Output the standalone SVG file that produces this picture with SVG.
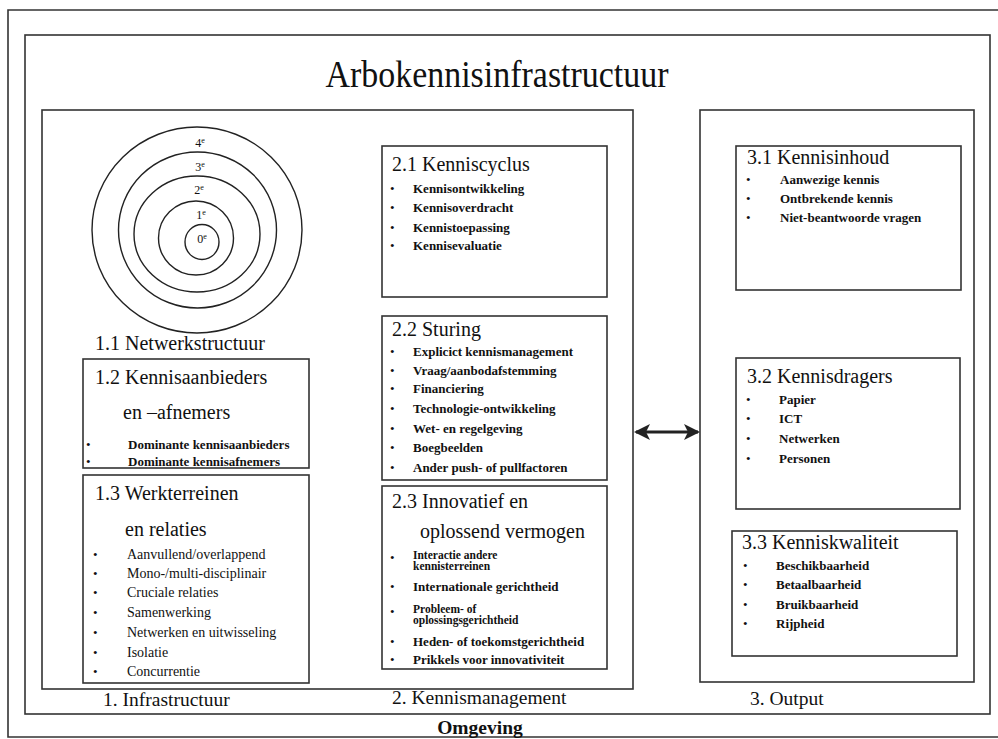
<svg xmlns="http://www.w3.org/2000/svg" width="998" height="739" viewBox="0 0 998 739">
<defs>
<style>
text{font-family:"Liberation Serif","Times New Roman",serif;fill:#111}
.frame{fill:none;stroke:#333;stroke-width:1.6}
.box{fill:#fff;stroke:#333;stroke-width:1.6}
.ring{fill:none;stroke:#222;stroke-width:1.4}
.ttl{font-size:20px}
.lbl{font-size:19.5px}
.it{font-size:13px;font-weight:bold}
.itr{font-size:14px}
.sm{font-size:11.5px;font-weight:bold}
.bl{font-size:13px}
.ring-l{font-size:12px;text-anchor:middle}
</style>
<marker id="ah" viewBox="0 0 16 16" refX="14" refY="8" markerWidth="16" markerHeight="16" markerUnits="userSpaceOnUse" orient="auto-start-reverse">
<path d="M0,0 L16,8 L0,16 L4,8 Z" fill="#222"/>
</marker>
</defs>
<rect width="998" height="739" fill="#fff"/>
<g id="outer">
<path class="frame" d="M998,10 H8 V737 H998"/>
<text x="480" y="734" text-anchor="middle" style="font-size:19.5px;font-weight:bold">Omgeving</text>
</g>
<g id="arbokennisinfrastructuur">
<rect class="frame" x="25" y="35" width="965" height="679"/>
<text x="497" y="87" text-anchor="middle" style="font-size:37px" textLength="343" lengthAdjust="spacingAndGlyphs">Arbokennisinfrastructuur</text>
</g>
<g id="main-left">
<rect class="frame" x="42" y="110" width="591" height="579"/>
<text class="lbl" x="103" y="706">1. Infrastructuur</text>
<text class="lbl" x="392" y="704">2. Kennismanagement</text>
</g>
<g id="main-right">
<rect class="frame" x="700" y="110" width="274" height="572"/>
<text class="lbl" x="750" y="705">3. Output</text>
</g>
<g id="n1-1">
<ellipse class="ring" cx="197" cy="230" rx="105" ry="103"/>
<ellipse class="ring" cx="197.5" cy="230" rx="79" ry="78"/>
<ellipse class="ring" cx="197" cy="234" rx="63" ry="58"/>
<ellipse class="ring" cx="196" cy="238" rx="37.5" ry="37"/>
<ellipse class="ring" cx="202" cy="242" rx="17" ry="17.5"/>
<text class="ring-l" x="200" y="147">4<tspan dy="-4" font-size="8">e</tspan></text>
<text class="ring-l" x="200" y="171">3<tspan dy="-4" font-size="8">e</tspan></text>
<text class="ring-l" x="199" y="194">2<tspan dy="-4" font-size="8">e</tspan></text>
<text class="ring-l" x="201" y="219">1<tspan dy="-4" font-size="8">e</tspan></text>
<text class="ring-l" x="202" y="243">0<tspan dy="-4" font-size="8">e</tspan></text>
<text class="ttl" x="95" y="350">1.1 Netwerkstructuur</text>
</g>
<g id="n1-2">
<rect class="box" x="83" y="359" width="226" height="109"/>
<text class="ttl" x="95" y="384">1.2 Kennisaanbieders</text>
<text class="ttl" x="123" y="419">en –afnemers</text>
<text class="bl" x="86" y="449">•</text><text class="it" x="128" y="449">Dominante kennisaanbieders</text>
<text class="bl" x="86" y="466">•</text><text class="it" x="128" y="466">Dominante kennisafnemers</text>
</g>
<g id="n1-3">
<rect class="box" x="83" y="475" width="226" height="208"/>
<text class="ttl" x="95" y="500">1.3 Werkterreinen</text>
<text class="ttl" x="125" y="536">en relaties</text>
<text class="bl" x="93" y="559">•</text><text class="itr" x="127" y="559">Aanvullend/overlappend</text>
<text class="bl" x="93" y="578">•</text><text class="itr" x="127" y="578">Mono-/multi-disciplinair</text>
<text class="bl" x="93" y="597">•</text><text class="itr" x="127" y="597">Cruciale relaties</text>
<text class="bl" x="93" y="617">•</text><text class="itr" x="127" y="617">Samenwerking</text>
<text class="bl" x="93" y="637">•</text><text class="itr" x="127" y="637">Netwerken en uitwisseling</text>
<text class="bl" x="93" y="657">•</text><text class="itr" x="127" y="657">Isolatie</text>
<text class="bl" x="93" y="676">•</text><text class="itr" x="127" y="676">Concurrentie</text>
</g>
<g id="n2-1">
<rect class="box" x="382" y="146" width="225" height="151"/>
<text class="ttl" x="392" y="171">2.1 Kenniscyclus</text>
<text class="bl" x="390" y="193">•</text><text class="it" x="413" y="193">Kennisontwikkeling</text>
<text class="bl" x="390" y="212">•</text><text class="it" x="413" y="212">Kennisoverdracht</text>
<text class="bl" x="390" y="232">•</text><text class="it" x="413" y="232">Kennistoepassing</text>
<text class="bl" x="390" y="250">•</text><text class="it" x="413" y="250">Kennisevaluatie</text>
</g>
<g id="n2-2">
<rect class="box" x="382" y="316" width="225" height="164"/>
<text class="ttl" x="392" y="336">2.2 Sturing</text>
<text class="bl" x="390" y="356">•</text><text class="it" x="413" y="356">Explicict kennismanagement</text>
<text class="bl" x="390" y="375">•</text><text class="it" x="413" y="375">Vraag/aanbodafstemming</text>
<text class="bl" x="390" y="393">•</text><text class="it" x="413" y="393">Financiering</text>
<text class="bl" x="390" y="413">•</text><text class="it" x="413" y="413">Technologie-ontwikkeling</text>
<text class="bl" x="390" y="433">•</text><text class="it" x="413" y="433">Wet- en regelgeving</text>
<text class="bl" x="390" y="452">•</text><text class="it" x="413" y="452">Boegbeelden</text>
<text class="bl" x="390" y="472">•</text><text class="it" x="413" y="472">Ander push- of pullfactoren</text>
</g>
<g id="n2-3">
<rect class="box" x="382" y="486" width="225" height="183"/>
<text class="ttl" x="392" y="508">2.3 Innovatief en</text>
<text class="ttl" x="420" y="538">oplossend vermogen</text>
<text class="bl" x="390" y="562">•</text><text class="sm" x="413" y="559">Interactie andere</text>
<text class="sm" x="413" y="569.5">kennisterreinen</text>
<text class="bl" x="390" y="591">•</text><text class="it" x="413" y="591">Internationale gerichtheid</text>
<text class="bl" x="390" y="616">•</text><text class="sm" x="413" y="613">Probleem- of</text>
<text class="sm" x="413" y="623.5">oplossingsgerichtheid</text>
<text class="bl" x="390" y="646">•</text><text class="it" x="413" y="646">Heden- of toekomstgerichtheid</text>
<text class="bl" x="390" y="664">•</text><text class="it" x="413" y="664">Prikkels voor innovativiteit</text>
</g>
<g id="n3-1">
<rect class="box" x="736" y="146" width="225" height="144"/>
<text class="ttl" x="747" y="164">3.1 Kennisinhoud</text>
<text class="bl" x="746" y="184">•</text><text class="it" x="780" y="184">Aanwezige kennis</text>
<text class="bl" x="746" y="203">•</text><text class="it" x="780" y="203">Ontbrekende kennis</text>
<text class="bl" x="746" y="222">•</text><text class="it" x="780" y="222">Niet-beantwoorde vragen</text>
</g>
<g id="n3-2">
<rect class="box" x="736" y="358" width="224" height="151"/>
<text class="ttl" x="747" y="383">3.2 Kennisdragers</text>
<text class="bl" x="746" y="404">•</text><text class="it" x="779" y="404">Papier</text>
<text class="bl" x="746" y="423">•</text><text class="it" x="779" y="423">ICT</text>
<text class="bl" x="746" y="443">•</text><text class="it" x="779" y="443">Netwerken</text>
<text class="bl" x="746" y="463">•</text><text class="it" x="779" y="463">Personen</text>
</g>
<g id="n3-3">
<rect class="box" x="732" y="531" width="225" height="125"/>
<text class="ttl" x="742" y="549">3.3 Kenniskwaliteit</text>
<text class="bl" x="743" y="570">•</text><text class="it" x="776" y="570">Beschikbaarheid</text>
<text class="bl" x="743" y="589">•</text><text class="it" x="776" y="589">Betaalbaarheid</text>
<text class="bl" x="743" y="609">•</text><text class="it" x="776" y="609">Bruikbaarheid</text>
<text class="bl" x="743" y="628">•</text><text class="it" x="776" y="628">Rijpheid</text>
</g>
<g id="connectors">
<line x1="636" y1="432" x2="698" y2="432" stroke="#222" stroke-width="3" marker-start="url(#ah)" marker-end="url(#ah)"/>
</g>
</svg>
